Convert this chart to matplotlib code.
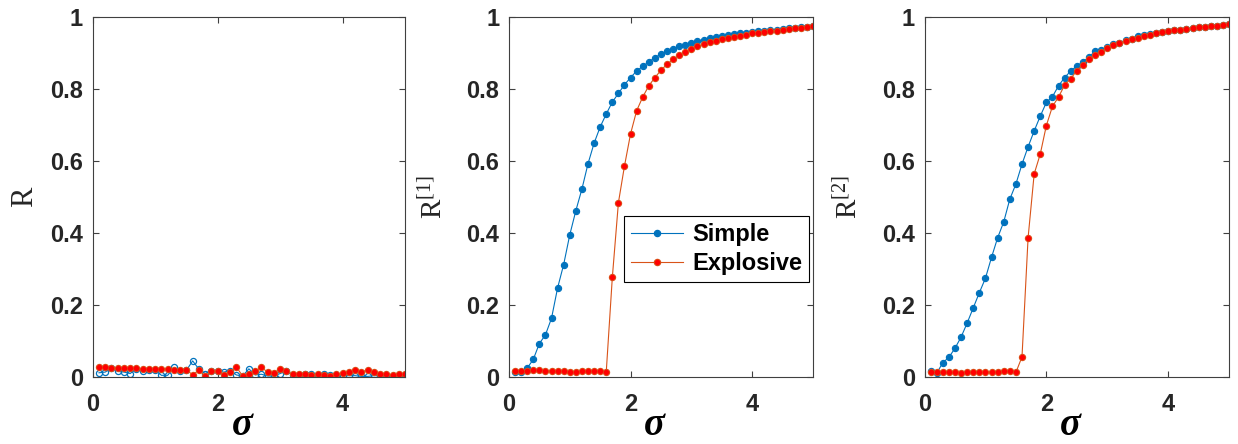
import matplotlib

matplotlib.use("Agg")

import matplotlib.pyplot as plt
from matplotlib.legend_handler import HandlerTuple
from matplotlib.lines import Line2D

BLUE = "#0072BD"
ORANGE = "#D95319"
RED = "#FF0000"
AXIS = "#404040"

plt.rcParams["font.family"] = ["Liberation Sans", "DejaVu Sans"]
plt.rcParams["mathtext.fontset"] = "custom"
plt.rcParams["mathtext.rm"] = "Liberation Serif"
plt.rcParams["mathtext.it"] = "Liberation Serif:italic"
plt.rcParams["mathtext.bfit"] = "Liberation Serif:italic:bold"

sigma = [0.1, 0.2, 0.3, 0.4, 0.5, 0.6, 0.7, 0.8, 0.9, 1.0,
         1.1, 1.2, 1.3, 1.4, 1.5, 1.6, 1.7, 1.8, 1.9, 2.0,
         2.1, 2.2, 2.3, 2.4, 2.5, 2.6, 2.7, 2.8, 2.9, 3.0,
         3.1, 3.2, 3.3, 3.4, 3.5, 3.6, 3.7, 3.8, 3.9, 4.0,
         4.1, 4.2, 4.3, 4.4, 4.5, 4.6, 4.7, 4.8, 4.9, 5.0]

r_simple = [0.013, 0.015, 0.026, 0.017, 0.015, 0.011, 0.024, 0.017, 0.021, 0.020,
            0.006, 0.006, 0.028, 0.019, 0.020, 0.046, 0.023, 0.011, 0.019, 0.017,
            0.015, 0.019, 0.007, 0.004, 0.024, 0.007, 0.009, 0.004, 0.004, 0.011,
            0.018, 0.006, 0.007, 0.011, 0.009, 0.008, 0.011, 0.006, 0.007, 0.005,
            0.005, 0.005, 0.003, 0.003, 0.005, 0.005, 0.005, 0.001, 0.005, 0.007]
r_explosive = [0.028, 0.028, 0.027, 0.026, 0.025, 0.025, 0.025, 0.024, 0.024, 0.024,
               0.024, 0.024, 0.021, 0.020, 0.020, 0.008, 0.020, 0.004, 0.018, 0.017,
               0.008, 0.016, 0.029, 0.004, 0.009, 0.017, 0.028, 0.015, 0.012, 0.024,
               0.019, 0.009, 0.009, 0.011, 0.006, 0.009, 0.008, 0.004, 0.009, 0.012,
               0.015, 0.020, 0.016, 0.020, 0.015, 0.011, 0.011, 0.007, 0.009, 0.009]

r1_simple = [0.015, 0.015, 0.026, 0.050, 0.094, 0.118, 0.164, 0.248, 0.313, 0.395,
             0.462, 0.522, 0.592, 0.649, 0.694, 0.730, 0.763, 0.787, 0.811, 0.831,
             0.849, 0.862, 0.874, 0.886, 0.896, 0.904, 0.911, 0.917, 0.922, 0.928,
             0.932, 0.936, 0.940, 0.943, 0.946, 0.949, 0.951, 0.953, 0.955, 0.957,
             0.959, 0.961, 0.963, 0.964, 0.966, 0.967, 0.969, 0.970, 0.972, 0.974]
r1_explosive = [0.018, 0.017, 0.019, 0.020, 0.020, 0.019, 0.018, 0.018, 0.017, 0.016,
                0.016, 0.017, 0.018, 0.018, 0.017, 0.015, 0.277, 0.484, 0.586, 0.675,
                0.739, 0.777, 0.808, 0.831, 0.851, 0.868, 0.881, 0.893, 0.902, 0.910,
                0.917, 0.923, 0.929, 0.933, 0.938, 0.941, 0.944, 0.947, 0.950, 0.953,
                0.955, 0.957, 0.959, 0.961, 0.963, 0.965, 0.967, 0.969, 0.971, 0.974]

r2_simple = [0.018, 0.012, 0.041, 0.056, 0.081, 0.112, 0.151, 0.193, 0.235, 0.275,
             0.333, 0.387, 0.431, 0.494, 0.536, 0.591, 0.639, 0.683, 0.724, 0.762,
             0.778, 0.808, 0.831, 0.849, 0.863, 0.874, 0.888, 0.904, 0.907, 0.916,
             0.923, 0.928, 0.934, 0.938, 0.946, 0.948, 0.951, 0.954, 0.957, 0.960,
             0.963, 0.964, 0.966, 0.968, 0.970, 0.972, 0.974, 0.975, 0.976, 0.978]
r2_explosive = [0.014, 0.014, 0.014, 0.014, 0.014, 0.013, 0.014, 0.014, 0.014, 0.014,
                0.014, 0.016, 0.018, 0.018, 0.014, 0.057, 0.387, 0.564, 0.619, 0.698,
                0.751, 0.777, 0.810, 0.828, 0.850, 0.867, 0.882, 0.893, 0.902, 0.913,
                0.920, 0.926, 0.932, 0.937, 0.941, 0.946, 0.950, 0.953, 0.956, 0.959,
                0.962, 0.964, 0.966, 0.968, 0.970, 0.972, 0.974, 0.975, 0.976, 0.978]

y_ticks = [0, 0.2, 0.4, 0.6, 0.8, 1]
y_tick_labels = ["0", "0.2", "0.4", "0.6", "0.8", "1"]
x_ticks = [0, 2, 4]

panels = [
    (r_simple, r_explosive, r"$\mathrm{R}$", False),
    (r1_simple, r1_explosive, r"$\mathrm{R}^{[1]}$", True),
    (r2_simple, r2_explosive, r"$\mathrm{R}^{[2]}$", True),
]
positions = [
    [0.0749, 0.1498, 0.2523, 0.813],
    [0.4111, 0.1498, 0.2456, 0.813],
    [0.7468, 0.1498, 0.2460, 0.813],
]
ylabel_x = [-0.218, -0.248, -0.248]
ylabel_size = [22, 21, 21]


def _series(ax, values, line_color, dot_color, filled):
    ax.plot(sigma, values, color=line_color, linewidth=0.8, marker="o",
            markersize=4.4, markerfacecolor="none", markeredgecolor=line_color,
            markeredgewidth=0.9)
    if filled:
        ax.plot(sigma, values, linestyle="none", marker="o", markersize=4.0,
                color=dot_color, markeredgewidth=0)


fig = plt.figure(figsize=(12.38, 4.44), dpi=100)

for idx, (simple, explosive, ylabel, filled) in enumerate(panels):
    ax = fig.add_axes(positions[idx])
    _series(ax, simple, BLUE, BLUE, filled)
    _series(ax, explosive, ORANGE, RED, True)
    ax.set_xlim(0, 5)
    ax.set_ylim(0, 1)
    ax.set_xticks(x_ticks)
    ax.set_yticks(y_ticks)
    ax.set_yticklabels(y_tick_labels)
    ax.tick_params(direction="in", top=True, right=True, length=4, width=0.8,
                   color=AXIS, labelsize=17, labelcolor="#262626")
    ax.tick_params(axis="x", pad=11)
    ax.tick_params(axis="y", pad=7)
    for label in ax.get_xticklabels() + ax.get_yticklabels():
        label.set_fontweight("bold")
    for spine in ax.spines.values():
        spine.set_color(AXIS)
        spine.set_linewidth(0.8)
    ax.set_ylabel(ylabel, fontsize=ylabel_size[idx], color="#262626",
                  va="center", ha="center")
    ax.yaxis.set_label_coords(ylabel_x[idx], 0.5)
    ax.set_xlabel(r"$\mathbfit{\sigma}$", fontsize=28, color="black",
                  va="bottom")
    ax.xaxis.set_label_coords(0.48, -0.181)

    if idx == 1:
        simple_handle = (
            Line2D([], [], color=BLUE, linewidth=0.8, marker="o", markersize=4.4,
                   markerfacecolor="none", markeredgecolor=BLUE),
            Line2D([], [], linestyle="none", marker="o", markersize=4.0,
                   color=BLUE, markeredgewidth=0),
        )
        explosive_handle = (
            Line2D([], [], color=ORANGE, linewidth=0.8, marker="o", markersize=4.4,
                   markerfacecolor="none", markeredgecolor=ORANGE),
            Line2D([], [], linestyle="none", marker="o", markersize=4.0,
                   color=RED, markeredgewidth=0),
        )
        leg = ax.legend(
            [simple_handle, explosive_handle],
            ["Simple", "Explosive"],
            handler_map={tuple: HandlerTuple(ndivide=1)},
            loc="upper left",
            bbox_to_anchor=(0.378, 0.447),
            borderaxespad=0,
            fancybox=False,
            edgecolor="black",
            framealpha=1,
            prop={"size": 17, "weight": "bold"},
            handlelength=2.2,
            handletextpad=0.4,
            borderpad=0.3,
            labelspacing=0.25,
        )
        leg.get_frame().set_linewidth(0.8)

fig.savefig("out.png", dpi=100)
